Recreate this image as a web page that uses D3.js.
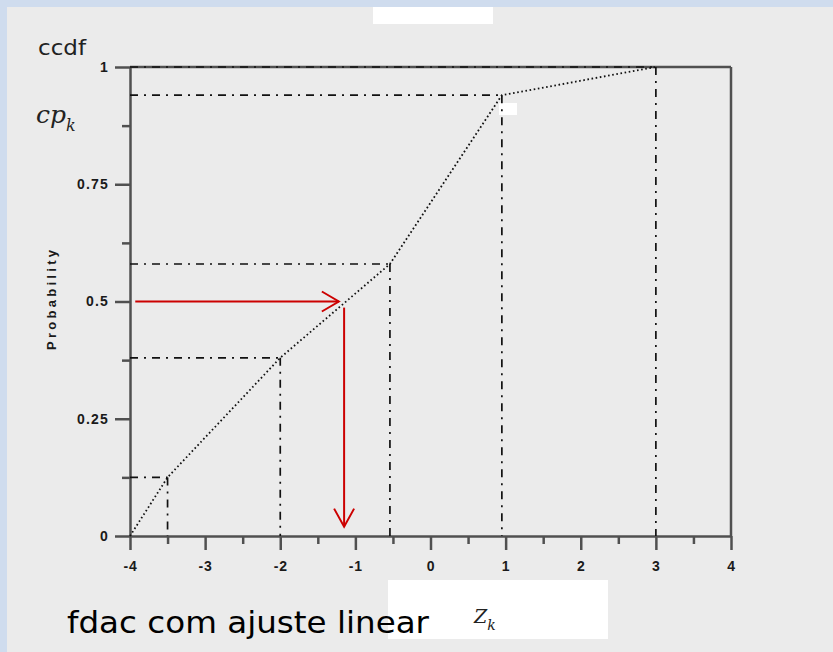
<!DOCTYPE html>
<html>
<head>
<meta charset="utf-8">
<script src="https://cdn.jsdelivr.net/npm/d3@7"></script>
<style>
  html, body { margin: 0; padding: 0; background: #cfdcee; }
  svg { display: block; }
</style>
</head>
<body>
<svg id="chart" width="833" height="652"></svg>
<script>
// ---- data ----
const zValues = [-4, -3.5, -2, -0.54, 0.95, 3];          // Z_k
const cpValues = [0, 0.125, 0.38, 0.58, 0.94, 1];        // cp_k (cumulative prob.)
const xMajorTicks = [-4, -3, -2, -1, 0, 1, 2, 3, 4];
const xMinorTicks = [-3.5, -2.5, -1.5, -0.5, 0.5, 1.5, 2.5, 3.5];
const yMajorTicks = [0, 0.25, 0.5, 0.75, 1];
const yMinorTicks = [0.125, 0.375, 0.625, 0.875];
const yTickLabels = ["0", "0.25", "0.5", "0.75", "1"];
const arrowProb = 0.5;          // probability read in
const arrowZ = -1.15;           // resulting Z
const arrowHStart = -3.93;
const arrowHEnd = -1.22;
const arrowVStart = 0.487;
const arrowVEnd = 0.02;

const svg = d3.select("#chart");
// background
svg.append("rect").attr("x", 7).attr("y", 7).attr("width", 826).attr("height", 645).attr("fill", "#ebebeb");
// white patches
svg.append("rect").attr("x", 373).attr("y", 7).attr("width", 120).attr("height", 17).attr("fill", "#ffffff");
svg.append("rect").attr("x", 388).attr("y", 580).attr("width", 220).attr("height", 59).attr("fill", "#ffffff");
svg.append("rect").attr("x", 499).attr("y", 103).attr("width", 18).attr("height", 12).attr("fill", "#ffffff");

const x = d3.scaleLinear().domain([-4, 4]).range([130, 731]);
const y = d3.scaleLinear().domain([0, 1]).range([536, 67]);

const axisColor = "#505050";
const labelFont = "'Liberation Sans', Arial, sans-serif";

// frame: top and right
svg.append("line").attr("x1", x(-4)).attr("x2", x(4)).attr("y1", y(1)).attr("y2", y(1))
  .attr("stroke", axisColor).attr("stroke-width", 2.5);
svg.append("line").attr("x1", x(4)).attr("x2", x(4)).attr("y1", y(1)).attr("y2", y(0))
  .attr("stroke", axisColor).attr("stroke-width", 2.5);

function styleAxis(g) {
  g.selectAll("path.domain").attr("stroke", axisColor).attr("stroke-width", 2.5);
  g.selectAll(".tick line").attr("stroke", axisColor).attr("stroke-width", 2.5);
  g.selectAll(".tick text").attr("fill", "#1a1a1a").attr("font-weight", "bold")
    .attr("font-family", labelFont).attr("font-size", 14);
}

// y axis minor
svg.append("g").attr("transform", `translate(${x(-4)},0)`)
  .call(d3.axisLeft(y).tickValues(yMinorTicks).tickSize(8).tickSizeOuter(0).tickFormat(""))
  .call(styleAxis).call(g => g.select("path.domain").remove());
// y axis major
svg.append("g").attr("transform", `translate(${x(-4)},0)`)
  .call(d3.axisLeft(y).tickValues(yMajorTicks).tickSize(15).tickSizeOuter(0).tickPadding(6)
    .tickFormat((d, i) => yTickLabels[i]))
  .call(styleAxis)
  .call(g => g.selectAll(".tick text").attr("letter-spacing", 1.2));

// x axis minor
svg.append("g").attr("transform", `translate(0,${y(0)})`)
  .call(d3.axisBottom(x).tickValues(xMinorTicks).tickSize(8).tickSizeOuter(0).tickFormat(""))
  .call(styleAxis).call(g => g.select("path.domain").remove());
// x axis major
svg.append("g").attr("transform", `translate(0,${y(0)})`)
  .call(d3.axisBottom(x).tickValues(xMajorTicks).tickSize(14).tickSizeOuter(0).tickPadding(11)
    .tickFormat(d => d < 0 ? "-" + Math.abs(d) : String(d)))
  .call(styleAxis)
  .call(g => g.selectAll(".tick text").attr("letter-spacing", 0.8));

// y axis title
svg.append("text")
  .attr("transform", "translate(56,300) rotate(-90)")
  .attr("text-anchor", "middle")
  .attr("font-family", labelFont).attr("font-weight", "bold").attr("font-size", 13)
  .attr("fill", "#1a1a1a").attr("textLength", 100).attr("lengthAdjust", "spacing")
  .text("Probability");

// dash-dot guide lines
const pts = zValues.map((z, i) => ({ z, p: cpValues[i] })).slice(1);
const dashStyle = "8,6,2,6";
svg.append("g").selectAll("line.h").data(pts).join("line")
  .attr("x1", x(-4)).attr("x2", d => x(d.z))
  .attr("y1", d => y(d.p)).attr("y2", d => y(d.p))
  .attr("stroke", "#111").attr("stroke-width", 1.7).attr("stroke-dasharray", dashStyle);
svg.append("g").selectAll("line.v").data(pts).join("line")
  .attr("x1", d => x(d.z)).attr("x2", d => x(d.z))
  .attr("y1", d => y(d.p)).attr("y2", y(0))
  .attr("stroke", "#111").attr("stroke-width", 1.7).attr("stroke-dasharray", dashStyle);

// dotted linear fit
const line = d3.line().x((d, i) => x(zValues[i])).y((d, i) => y(cpValues[i]));
svg.append("path").datum(zValues).attr("d", line)
  .attr("fill", "none").attr("stroke", "#111").attr("stroke-width", 1.8)
  .attr("stroke-dasharray", "1.6,2.6");

// red arrows
const red = "#cc0000";
svg.append("line").attr("x1", x(arrowHStart)).attr("x2", x(arrowHEnd))
  .attr("y1", y(arrowProb)).attr("y2", y(arrowProb))
  .attr("stroke", red).attr("stroke-width", 2);
svg.append("path")
  .attr("d", `M${x(arrowHEnd) - 17},${y(arrowProb) - 10}L${x(arrowHEnd)},${y(arrowProb)}L${x(arrowHEnd) - 17},${y(arrowProb) + 10}`)
  .attr("fill", "none").attr("stroke", red).attr("stroke-width", 2);
svg.append("line").attr("x1", x(arrowZ)).attr("x2", x(arrowZ))
  .attr("y1", y(arrowVStart)).attr("y2", y(arrowVEnd))
  .attr("stroke", red).attr("stroke-width", 2);
svg.append("path")
  .attr("d", `M${x(arrowZ) - 10},${y(arrowVEnd) - 18}L${x(arrowZ)},${y(arrowVEnd)}L${x(arrowZ) + 10},${y(arrowVEnd) - 18}`)
  .attr("fill", "none").attr("stroke", red).attr("stroke-width", 2);

// annotations
svg.append("text").attr("x", 38).attr("y", 55)
  .attr("font-family", "'DejaVu Sans', Verdana, sans-serif").attr("font-size", 22)
  .attr("fill", "#222").attr("textLength", 48).attr("lengthAdjust", "spacingAndGlyphs")
  .text("ccdf");

const cp = svg.append("text").attr("x", 36).attr("y", 123)
  .attr("font-family", "'DejaVu Serif', serif").attr("font-style", "italic")
  .attr("font-size", 25).attr("fill", "#222");
cp.append("tspan").text("cp");
cp.append("tspan").attr("font-size", 16).attr("dy", 8).text("k");

svg.append("text").attr("x", 67).attr("y", 633)
  .attr("font-family", "'DejaVu Sans', Verdana, sans-serif").attr("font-size", 30)
  .attr("fill", "#000").attr("textLength", 362).attr("lengthAdjust", "spacingAndGlyphs")
  .text("fdac com ajuste linear");

const zk = svg.append("text").attr("x", 474).attr("y", 623)
  .attr("font-family", "'DejaVu Serif', serif").attr("font-style", "italic")
  .attr("font-size", 19).attr("fill", "#222");
zk.append("tspan").text("Z");
zk.append("tspan").attr("font-size", 14).attr("dy", 7).text("k");
</script>
</body>
</html>
